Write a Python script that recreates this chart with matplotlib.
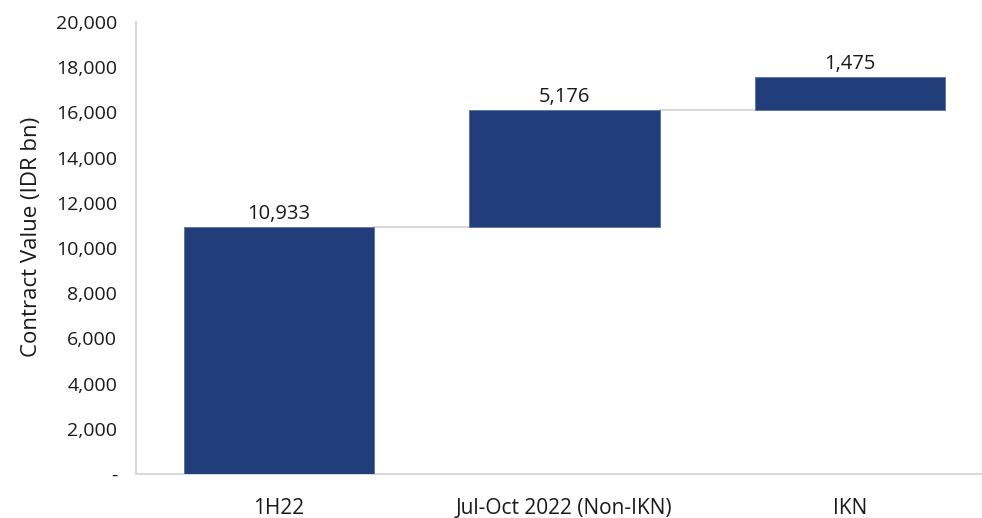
import matplotlib
matplotlib.use("Agg")
import matplotlib.pyplot as plt
from matplotlib.ticker import FuncFormatter

categories = ["1H22", "Jul-Oct 2022 (Non-IKN)", "IKN"]
values = [10933, 5176, 1475]

plt.rcParams["font.family"] = ["Open Sans", "DejaVu Sans"]

fig = plt.figure(figsize=(9.82, 5.18), dpi=100)
ax = fig.add_axes([0.1385, 0.0849, 0.8615, 0.8726])

bar_color = "#213E7A"
width = 0.666

bottoms = []
running = 0
for v in values:
    bottoms.append(running)
    running += v

x = list(range(len(categories)))
ax.bar(x, values, width=width, bottom=bottoms, color=bar_color,
       edgecolor="#5A6FA0", linewidth=0.6, zorder=3)

# connector lines between consecutive bar tops
for i in range(len(values) - 1):
    level = bottoms[i] + values[i]
    ax.plot([i + width / 2, i + 1 - width / 2], [level, level],
            color="#D9D9D9", linewidth=1.5, zorder=2)

for i, v in enumerate(values):
    ax.text(i, bottoms[i] + v + 120, f"{v:,}", ha="center", va="bottom",
            fontsize=14.5, color="#1a1a1a")

ax.set_xlim(-0.5, 2.462)
ax.set_ylim(0, 20000)
ax.set_yticks(range(0, 20001, 2000))
ax.yaxis.set_major_formatter(FuncFormatter(lambda v, p: "-" if v == 0 else f"{int(v):,}"))
ax.set_xticks(x)
ax.set_xticklabels(categories)
ax.tick_params(axis="both", length=0, colors="#1a1a1a")
ax.tick_params(axis="x", pad=17, labelsize=15)
ax.tick_params(axis="y", pad=13.5, labelsize=14)
ax.set_ylabel("Contract Value (IDR bn)", fontsize=16, color="#1a1a1a", labelpad=10)
ax.yaxis.label.set_y(0.525)

for s in ["top", "right"]:
    ax.spines[s].set_visible(False)
for s in ["left", "bottom"]:
    ax.spines[s].set_color("#D9D9D9")
    ax.spines[s].set_linewidth(1.5)

fig.savefig("out.png", dpi=100)
